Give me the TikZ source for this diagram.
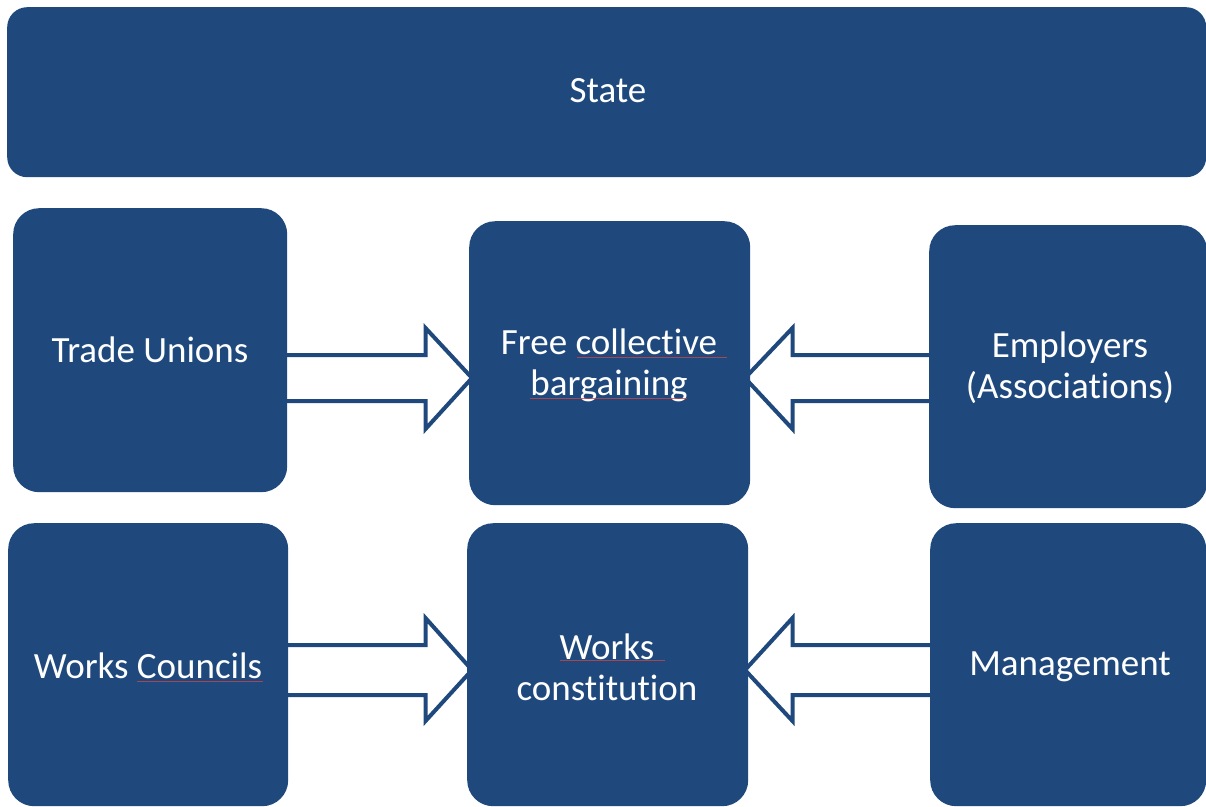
\documentclass[tikz,border=0pt]{standalone}
\usepackage{fontspec}
\setmainfont{Carlito}[Ligatures=CommonOff]
\definecolor{boxblue}{RGB}{31,73,125}
\definecolor{squiggle}{RGB}{200,70,70}
\tikzset{
  blockbox/.style={fill=boxblue, draw=none, rounded corners=26pt, inner sep=0pt, anchor=north west},
  statebox/.style={fill=boxblue, draw=none, rounded corners=20pt, inner sep=0pt, anchor=north west},
  label/.style={text=white, align=center, inner sep=0pt, font=\fontsize{37}{41}\selectfont},
  blockarrow/.style={draw=boxblue, fill=white, line width=4pt, line join=miter},
  spell/.style={draw=squiggle, line width=1pt, opacity=0.8}
}
\begin{document}
\begin{tikzpicture}[x=1pt, y=-1pt]
\useasboundingbox (0,0) rectangle (1206,806);
% block arrows (drawn first, boxes cover their ends)
\draw[blockarrow] (280,355) -- (425.5,355) -- (425.5,328) -- (472,378) -- (425.5,429) -- (425.5,401) -- (280,401) -- cycle;
\draw[blockarrow] (935,355) -- (792.5,355) -- (792.5,328) -- (745,378) -- (792.5,429) -- (792.5,401) -- (935,401) -- cycle;
\draw[blockarrow] (280,645) -- (425.5,645) -- (425.5,618) -- (472,670) -- (425.5,721) -- (425.5,695) -- (280,695) -- cycle;
\draw[blockarrow] (935,645) -- (792.5,645) -- (792.5,618) -- (745,670) -- (792.5,721) -- (792.5,695) -- (935,695) -- cycle;
% boxes
\node[statebox, minimum width=1199pt, minimum height=170pt] (state) at (7,7) {};
\node[blockbox, minimum width=274pt, minimum height=284pt] (tu) at (13,208) {};
\node[blockbox, minimum width=281pt, minimum height=284pt] (fcb) at (469,221) {};
\node[blockbox, minimum width=278pt, minimum height=283pt] (emp) at (929,225) {};
\node[blockbox, minimum width=280pt, minimum height=283pt] (wc) at (8,523) {};
\node[blockbox, minimum width=281pt, minimum height=283pt] (wcon) at (467,523) {};
\node[blockbox, minimum width=276pt, minimum height=283pt] (mgmt) at (930,523) {};
% texts
\node[label] (tstate) at (608,91) {State};
\node[label] (ttu) at (150,350) {Trade Unions};
\node[label] (tfcb) at (609,365) {Free collective\\bargaining};
\node[label] (temp) at (1070,368) {Employers\\(Associations)};
\node[label] (twc) at (148,666) {Works Councils};
\node[label] (twcon) at (607,667) {Works\\constitution};
\node[label] (tmgmt) at (1070,667) {Management};
% spell-check underlines
\draw[spell] (577,357.5) -- (727,357.5);
\draw[spell] (530,398.5) -- (687,398.5);
\draw[spell] (137,681) -- (263,681);
\draw[spell] (560,660.5) -- (665,660.5);
\end{tikzpicture}
\end{document}
